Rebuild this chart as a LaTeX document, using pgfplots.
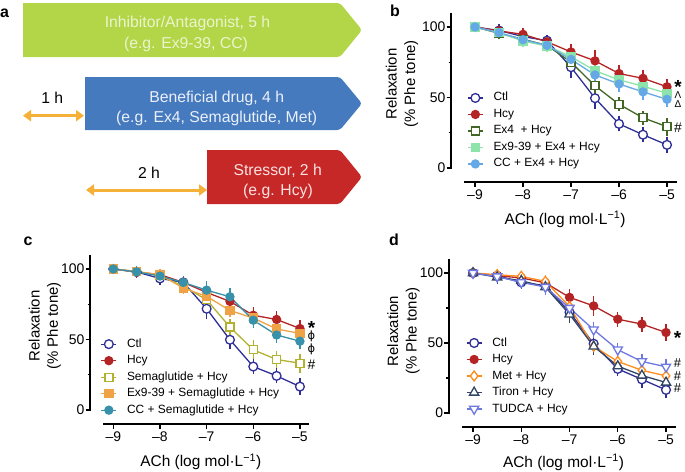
\documentclass[border=0pt]{standalone}
\usepackage{fontspec}
\setmainfont{Liberation Sans}
\newfontfamily\symfont{DejaVu Sans}
\usepackage{pgfplots}
\pgfplotsset{compat=1.18}
\usetikzlibrary{arrows.meta}

% colours
\definecolor{ctl}{RGB}{46,46,150}
\definecolor{hcy}{RGB}{180,36,36}
\definecolor{exfour}{RGB}{66,102,38}
\definecolor{exnine}{RGB}{140,228,170}
\definecolor{ccblue}{RGB}{100,168,230}
\definecolor{sema}{RGB}{178,178,48}
\definecolor{exorange}{RGB}{240,162,70}
\definecolor{ccteal}{RGB}{55,145,170}
\definecolor{met}{RGB}{255,140,30}
\definecolor{tiron}{RGB}{50,70,100}
\definecolor{tudca}{RGB}{110,120,225}
\definecolor{boxgreen}{RGB}{178,214,72}
\definecolor{boxblue}{RGB}{70,122,190}
\definecolor{boxred}{RGB}{198,40,40}
\definecolor{arrow}{RGB}{245,176,55}

\pgfplotsset{
  prism/.style={
    scale only axis, clip=false,
    xmin=-9.5, xmax=-4.75, ymin=-10, ymax=110,
    axis lines*=left,
    axis line style={draw=none},
    tick align=outside,
    major tick length=4.5bp, minor tick length=2.5bp,
    every tick/.style={black, line width=1.3bp},
    xtick={-9,-8,-7,-6,-5},
    xticklabels={–9,–8,–7,–6,–5},
    ytick={0,50,100},
    minor ytick={25,75},
    /pgf/number format/assume math mode=true,
    yticklabel style={font=\fontsize{14}{14}\selectfont, inner sep=1bp},
    xticklabel style={font=\fontsize{14}{14}\selectfont, inner sep=3bp},
    xlabel={ACh (log mol·L\textsuperscript{−1})},
    every axis x label/.style={at={(axis description cs:0.5,0)}, anchor=base,
      inner sep=0pt, font=\fontsize{15.5}{16}\selectfont},
    ylabel={Relaxation\\(\% Phe tone)},
    every axis y label/.style={rotate=90, anchor=center, align=center, inner sep=0pt,
      font=\fontsize{15}{18.5}\selectfont},
    legend cell align=left,
    legend style={draw=none, fill=none, inner sep=0pt, row sep=5.2bp, column sep=10bp,
      anchor=north west, font=\fontsize{12}{13}\selectfont,
      nodes={inner sep=0pt, text height=8.7bp, text depth=2.6bp}},
    legend image code/.code={\draw[mark repeat=2, mark phase=2, ##1]
      plot coordinates {(0bp,0bp) (7.5bp,0bp) (15bp,0bp)};},
    error bars/y dir=both, error bars/y explicit,
    error bars/error bar style={line width=1.2bp},
    error bars/error mark options={mark size=4bp, line width=1.2bp},
  },
  op/.style n args={3}{color=#1, line width=1.3bp, mark=#2, mark size=#3,
    mark options={solid, fill=white, line width=1.3bp}},
  fi/.style n args={3}{color=#1, line width=1.3bp, mark=#2, mark size=#3,
    mark options={solid, fill=#1, line width=1.3bp}},
}

\begin{document}
\begin{tikzpicture}
\path[use as bounding box] (0,0) rectangle (685bp,-472bp);

% ---------------- panel a ----------------
\fill[boxgreen] (23bp,-3bp) [rounded corners=3bp] -- (340bp,-3bp) -- (362bp,-30bp)
  -- (340bp,-57bp) [sharp corners] -- (23bp,-57bp) -- cycle;
\fill[boxblue] (85bp,-77bp) [rounded corners=3bp] -- (340bp,-77bp) -- (362bp,-103.5bp)
  -- (340bp,-130bp) [sharp corners] -- (85bp,-130bp) -- cycle;
\fill[boxred] (207bp,-150bp) [rounded corners=3bp] -- (340bp,-150bp) -- (362bp,-177bp)
  -- (340bp,-204bp) [sharp corners] -- (207bp,-204bp) -- cycle;
\begin{scope}[every node/.style={anchor=base, inner sep=0pt, font=\fontsize{15.8}{18}\selectfont}]
  \node[text={rgb,255:red,236;green,244;blue,205}] at (187.5bp,-27.9bp) {Inhibitor/Antagonist, 5 h};
  \node[text={rgb,255:red,236;green,244;blue,205}] at (186bp,-48.4bp) {(e.g. Ex9-39, CC)};
  \node[text={rgb,255:red,235;green,240;blue,250}] at (216.7bp,-102.1bp) {Beneficial drug, 4 h};
  \node[text={rgb,255:red,235;green,240;blue,250}] at (216.7bp,-122.1bp) {(e.g. Ex4, Semaglutide, Met)};
  \node[text={rgb,255:red,252;green,225;blue,225}] at (277.7bp,-175.4bp) {Stressor, 2 h};
  \node[text={rgb,255:red,252;green,225;blue,225}] at (278bp,-195.4bp) {(e.g. Hcy)};
  \node at (52.3bp,-103.4bp) {1 h};
  \node at (149bp,-178.4bp) {2 h};
\end{scope}
\draw[arrow, line width=3bp, {Triangle[length=8bp,width=11bp]}-{Triangle[length=8bp,width=11bp]}]
  (23bp,-115.7bp) -- (84bp,-115.7bp);
\draw[arrow, line width=3bp, {Triangle[length=8bp,width=11bp]}-{Triangle[length=8bp,width=11bp]}]
  (86bp,-190bp) -- (207bp,-190bp);

% panel letters
\begin{scope}[every node/.style={anchor=base, inner sep=0pt, font=\bfseries\fontsize{16}{16}\selectfont}]
  \node at (4.5bp,-17bp) {a};
  \node at (395bp,-16.7bp) {b};
  \node at (28bp,-245bp) {c};
  \node at (394bp,-245bp) {d};
\end{scope}

% ---------------- panel b ----------------
\begin{axis}[prism, at={(451bp,-182.1bp)}, anchor=south west, width=228bp, height=169.2bp,
  ylabel style={at={(axis description cs:-0.215,0.58)}},
  xlabel style={yshift=-41.9bp},
  legend style={at={(0.0702,0.532)}}]
\addplot[op={ctl}{*}{4.4bp}] coordinates {
  (-9,100) +- (0,0.5) (-8.5,97.5) +- (0,1.5) (-8,93.2) +- (0,2) (-7.5,90.3) +- (0,1.5)
  (-7,71.5) +- (0,4.5) (-6.5,49.5) +- (0,4.5) (-6,31.3) +- (0,2.5) (-5.5,23.6) +- (0,2.5)
  (-5,16.4) +- (0,3)};
\addlegendentry{Ctl}
\addplot[fi={hcy}{*}{4bp}] coordinates {
  (-9,100) +- (0,0.5) (-8.5,97.2) +- (0,1.5) (-8,94.8) +- (0,1.5) (-7.5,89.5) +- (0,1.5)
  (-7,82.3) +- (0,3) (-6.5,76) +- (0,4.5) (-6,67) +- (0,3) (-5.5,63.6) +- (0,3)
  (-5,57.6) +- (0,3)};
\addlegendentry{Hcy}
\addplot[op={exfour}{square*}{4bp}] coordinates {
  (-9,100) +- (0,0.5) (-8.5,95.5) +- (0,1.5) (-8,91.3) +- (0,1.5) (-7.5,87) +- (0,1.5)
  (-7,75) +- (0,3) (-6.5,58.3) +- (0,3.5) (-6,45.2) +- (0,2) (-5.5,35.6) +- (0,2)
  (-5,29.3) +- (0,3.5)};
\addlegendentry{Ex4 \ + Hcy}
\addplot[fi={exnine}{square*}{4bp}] coordinates {
  (-9,100) +- (0,0.5) (-8.5,96) +- (0,1) (-8,90) +- (0,1.5) (-7.5,86.5) +- (0,1.5)
  (-7,79) +- (0,2) (-6.5,69) +- (0,2.5) (-6,62.5) +- (0,2.5) (-5.5,58) +- (0,2.5)
  (-5,53) +- (0,2)};
\addlegendentry{Ex9-39 + Ex4 + Hcy}
\addplot[fi={ccblue}{*}{4bp}] coordinates {
  (-9,100) +- (0,0.5) (-8.5,96) +- (0,1) (-8,91) +- (0,1.5) (-7.5,87) +- (0,1.5)
  (-7,77) +- (0,2.5) (-6.5,66) +- (0,3) (-6,59.6) +- (0,3) (-5.5,54) +- (0,3)
  (-5,48.7) +- (0,2.5)};
\addlegendentry{CC + Ex4 + Hcy}
\draw[line width=1.4bp] (axis cs:-9.5,-0.6) -- (axis cs:-9.5,110);
\draw[line width=1.4bp] (axis cs:-9.22,-10) -- (axis cs:-4.8,-10);
\end{axis}

% ---------------- panel c ----------------
\begin{axis}[prism, at={(90bp,-424.1bp)}, anchor=south west, width=221.6bp, height=169.2bp,
  ylabel style={at={(axis description cs:-0.2035,0.580)}},
  xlabel style={yshift=-42.6bp},
  legend style={at={(0.0474,0.507)}}]
\addplot[op={ctl}{*}{4.4bp}] coordinates {
  (-9,100) +- (0,0.5) (-8.5,97.9) +- (0,1.5) (-8,93.3) +- (0,1.5) (-7.5,90.5) +- (0,2)
  (-7,71.8) +- (0,4.5) (-6.5,49.8) +- (0,4) (-6,30.8) +- (0,2.5) (-5.5,24.2) +- (0,2.5)
  (-5,16.6) +- (0,3)};
\addlegendentry{Ctl}
\addplot[fi={hcy}{*}{4bp}] coordinates {
  (-9,100) +- (0,0.5) (-8.5,97.8) +- (0,1.5) (-8,96) +- (0,1.5) (-7.5,90.5) +- (0,1.5)
  (-7,83.4) +- (0,3) (-6.5,77) +- (0,4) (-6,67.2) +- (0,3) (-5.5,64.2) +- (0,3)
  (-5,57.8) +- (0,3)};
\addlegendentry{Hcy}
\addplot[op={sema}{square*}{4bp}] coordinates {
  (-9,100) +- (0,0.5) (-8.5,98.3) +- (0,1) (-8,95.3) +- (0,1) (-7.5,87.7) +- (0,1.5)
  (-7,78.2) +- (0,3) (-6.5,58.8) +- (0,3) (-6,42.7) +- (0,4) (-5.5,35.8) +- (0,3)
  (-5,33.2) +- (0,4)};
\addlegendentry{Semaglutide + Hcy}
\addplot[fi={exorange}{square*}{4bp}] coordinates {
  (-9,100) +- (0,0.5) (-8.5,98.2) +- (0,1) (-8,96) +- (0,1) (-7.5,86.5) +- (0,1.5)
  (-7,80.6) +- (0,2) (-6.5,70.6) +- (0,2) (-6,65.2) +- (0,2) (-5.5,57.5) +- (0,2.5)
  (-5,54.3) +- (0,2.5)};
\addlegendentry{Ex9-39 + Semaglutide + Hcy}
\addplot[fi={ccteal}{*}{4bp}] coordinates {
  (-9,100) +- (0,0.5) (-8.5,98) +- (0,1) (-8,95) +- (0,1) (-7.5,90.5) +- (0,2)
  (-7,85) +- (0,3.5) (-6.5,80.3) +- (0,3.5) (-6,63.7) +- (0,3) (-5.5,53.2) +- (0,2.5)
  (-5,48.8) +- (0,3)};
\addlegendentry{CC + Semaglutide + Hcy}
\draw[line width=1.4bp] (axis cs:-9.5,-0.6) -- (axis cs:-9.5,110);
\draw[line width=1.4bp] (axis cs:-9.22,-10) -- (axis cs:-4.8,-10);
\end{axis}

% ---------------- panel d ----------------
\begin{axis}[prism, at={(448.9bp,-427bp)}, anchor=south west, width=229.2bp, height=168bp,
  ylabel style={at={(axis description cs:-0.198,0.571)}},
  xlabel style={yshift=-40bp},
  legend style={at={(0.0737,0.535)}}]
\addplot[op={ctl}{*}{4.4bp}] coordinates {
  (-9,100) +- (0,0.5) (-8.5,98) +- (0,1.5) (-8,93.3) +- (0,2) (-7.5,91) +- (0,2)
  (-7,72) +- (0,3.5) (-6.5,49.5) +- (0,4) (-6,31.5) +- (0,2.5) (-5.5,24) +- (0,3)
  (-5,16.5) +- (0,3)};
\addlegendentry{Ctl}
\addplot[fi={hcy}{*}{4bp}] coordinates {
  (-9,100) +- (0,0.5) (-8.5,98) +- (0,1) (-8,96.5) +- (0,1.5) (-7.5,93) +- (0,1.5)
  (-7,82.6) +- (0,3) (-6.5,76.5) +- (0,4) (-6,67) +- (0,2.5) (-5.5,63.5) +- (0,2.5)
  (-5,57.5) +- (0,3)};
\addlegendentry{Hcy}
\addplot[op={met}{diamond*}{5bp}] coordinates {
  (-9,100) +- (0,0.5) (-8.5,98.8) +- (0,1) (-8,97.6) +- (0,1) (-7.5,94) +- (0,1.5)
  (-7,76) +- (0,2) (-6.5,47.6) +- (0,3) (-6,36.8) +- (0,3) (-5.5,30.5) +- (0,2.5)
  (-5,26.5) +- (0,3)};
\addlegendentry{Met + Hcy}
\addplot[op={tiron}{triangle*}{5.3bp}] coordinates {
  (-9,100) +- (0,0.5) (-8.5,97) +- (0,2) (-8,94.5) +- (0,2) (-7.5,90) +- (0,2)
  (-7,70.5) +- (0,3) (-6.5,47.6) +- (0,3) (-6,33.5) +- (0,2.5) (-5.5,26.8) +- (0,2.5)
  (-5,21.8) +- (0,3)};
\addlegendentry{Tiron + Hcy}
\addplot[color=tudca, line width=1.3bp, mark=triangle*, mark size=5.3bp,
  mark options={solid, fill=white, line width=1.3bp, rotate=180}] coordinates {
  (-9,100) +- (0,0.5) (-8.5,97.5) +- (0,1) (-8,93.3) +- (0,1.5) (-7.5,90) +- (0,3)
  (-7,75) +- (0,3) (-6.5,59.5) +- (0,3) (-6,45.2) +- (0,2) (-5.5,36.8) +- (0,2.5)
  (-5,33) +- (0,3)};
\addlegendentry{TUDCA + Hcy}
\draw[line width=1.4bp] (axis cs:-9.5,-0.6) -- (axis cs:-9.5,110);
\draw[line width=1.4bp] (axis cs:-9.22,-10) -- (axis cs:-4.8,-10);
\end{axis}

% ---------------- significance marks ----------------
\begin{scope}[every node/.style={inner sep=0pt}]
  \node[font=\bfseries\fontsize{19}{19}\selectfont] at (678bp,-87bp) {*};
  \node[font=\fontsize{10}{10}\selectfont] at (678bp,-95bp) {Λ};
  \node[font=\fontsize{10}{10}\selectfont] at (678bp,-104bp) {Δ};
  \node[font=\fontsize{14}{14}\selectfont] at (678bp,-128bp) {\#};
  \node[font=\bfseries\fontsize{19}{19}\selectfont] at (311.5bp,-328bp) {*};
  \node[font=\symfont\fontsize{11.5}{11.5}\selectfont] at (311.5bp,-336.5bp) {ϕ};
  \node[font=\symfont\fontsize{11.5}{11.5}\selectfont] at (311.5bp,-349bp) {ϕ};
  \node[font=\fontsize{14}{14}\selectfont] at (311.5bp,-365bp) {\#};
  \node[font=\bfseries\fontsize{19}{19}\selectfont] at (677.5bp,-337.5bp) {*};
  \node[font=\fontsize{13}{13}\selectfont] at (677.5bp,-363.3bp) {\#};
  \node[font=\fontsize{13}{13}\selectfont] at (677.5bp,-376bp) {\#};
  \node[font=\fontsize{13}{13}\selectfont] at (677.5bp,-388.5bp) {\#};
\end{scope}
\end{tikzpicture}
\end{document}
